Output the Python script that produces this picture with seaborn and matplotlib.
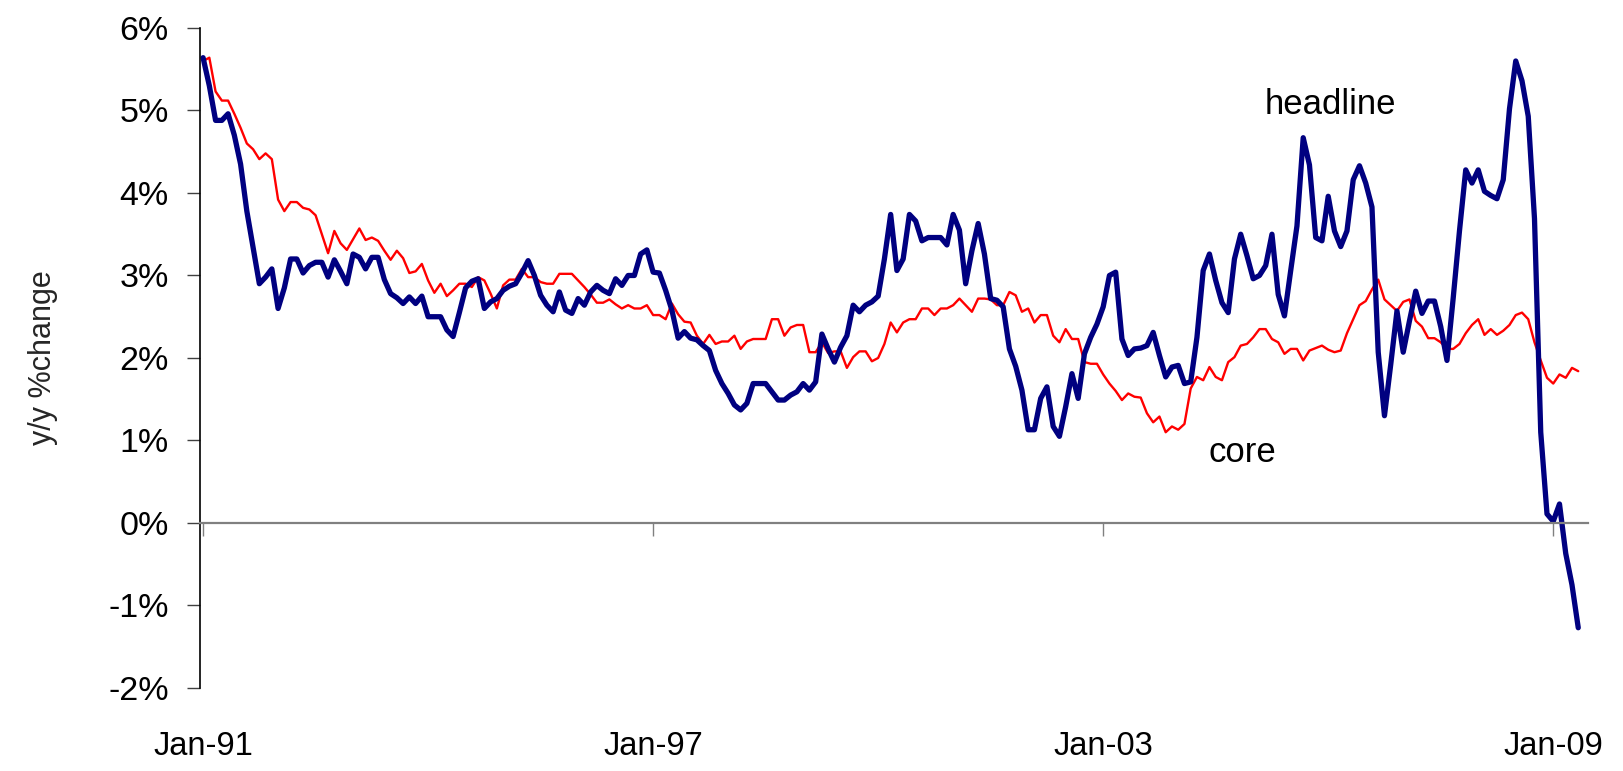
import numpy as np
import pandas as pd
import matplotlib
matplotlib.use("Agg")
import matplotlib.pyplot as plt
import seaborn as sns

# ---- data: US CPI, y/y % change, monthly Jan-1991 .. May-2009 ----
headline = [
    5.64, 5.30, 4.88, 4.88, 4.96, 4.70, 4.35, 3.78, 3.34, 2.90, 2.98, 3.08,
    2.60, 2.85, 3.20, 3.20, 3.03, 3.12, 3.16, 3.16, 2.98, 3.19, 3.05, 2.90,
    3.26, 3.22, 3.08, 3.22, 3.22, 2.95, 2.78, 2.73, 2.66, 2.74, 2.66, 2.75,
    2.50, 2.50, 2.50, 2.34, 2.26, 2.55, 2.85, 2.93, 2.96, 2.60, 2.68, 2.72,
    2.82, 2.87, 2.90, 3.03, 3.18, 3.00, 2.76, 2.64, 2.56, 2.80, 2.58, 2.54,
    2.72, 2.64, 2.80, 2.88, 2.82, 2.78, 2.96, 2.88, 3.00, 3.00, 3.26, 3.31,
    3.04, 3.03, 2.82, 2.58, 2.24, 2.32, 2.24, 2.22, 2.15, 2.09, 1.85, 1.69,
    1.57, 1.43, 1.37, 1.45, 1.69, 1.69, 1.69, 1.59, 1.49, 1.49, 1.55, 1.59,
    1.69, 1.61, 1.71, 2.29, 2.11, 1.95, 2.13, 2.27, 2.64, 2.56, 2.64, 2.68,
    2.75, 3.20, 3.74, 3.06, 3.20, 3.74, 3.66, 3.42, 3.46, 3.46, 3.46, 3.37,
    3.74, 3.55, 2.90, 3.30, 3.63, 3.26, 2.72, 2.70, 2.62, 2.11, 1.90, 1.61,
    1.13, 1.13, 1.51, 1.65, 1.17, 1.05, 1.41, 1.81, 1.51, 2.05, 2.25, 2.41,
    2.62, 3.00, 3.04, 2.23, 2.03, 2.11, 2.12, 2.15, 2.31, 2.03, 1.77, 1.89,
    1.91, 1.69, 1.71, 2.25, 3.06, 3.26, 2.94, 2.67, 2.55, 3.20, 3.50, 3.24,
    2.96, 3.00, 3.12, 3.50, 2.77, 2.51, 3.06, 3.60, 4.67, 4.34, 3.46, 3.42,
    3.96, 3.54, 3.35, 3.54, 4.16, 4.33, 4.12, 3.83, 2.07, 1.30, 1.92, 2.57,
    2.07, 2.45, 2.81, 2.54, 2.69, 2.69, 2.38, 1.97, 2.73, 3.54, 4.28, 4.12,
    4.28, 4.02, 3.97, 3.93, 4.16, 5.02, 5.60, 5.36, 4.93, 3.69, 1.10, 0.11,
    0.02, 0.23, -0.37, -0.75, -1.27,
]
core = [
    5.60, 5.64, 5.23, 5.12, 5.12, 4.96, 4.79, 4.60, 4.53, 4.41, 4.48, 4.41,
    3.92, 3.78, 3.89, 3.89, 3.82, 3.80, 3.73, 3.50, 3.27, 3.54, 3.39, 3.31,
    3.44, 3.57, 3.43, 3.46, 3.42, 3.30, 3.19, 3.30, 3.21, 3.03, 3.05, 3.14,
    2.94, 2.79, 2.90, 2.75, 2.82, 2.90, 2.90, 2.86, 2.98, 2.94, 2.78, 2.60,
    2.88, 2.95, 2.95, 3.08, 2.98, 2.98, 2.92, 2.90, 2.90, 3.02, 3.02, 3.02,
    2.94, 2.86, 2.77, 2.67, 2.67, 2.71, 2.65, 2.60, 2.64, 2.60, 2.60, 2.64,
    2.52, 2.52, 2.47, 2.66, 2.53, 2.44, 2.43, 2.27, 2.17, 2.28, 2.17, 2.20,
    2.20, 2.27, 2.11, 2.20, 2.23, 2.23, 2.23, 2.47, 2.47, 2.27, 2.37, 2.40,
    2.40, 2.07, 2.07, 2.19, 2.06, 2.08, 2.08, 1.88, 2.01, 2.08, 2.08, 1.96,
    2.00, 2.17, 2.43, 2.31, 2.43, 2.47, 2.47, 2.60, 2.60, 2.52, 2.60, 2.60,
    2.64, 2.72, 2.64, 2.56, 2.72, 2.72, 2.71, 2.64, 2.64, 2.80, 2.76, 2.56,
    2.60, 2.43, 2.52, 2.52, 2.27, 2.19, 2.35, 2.23, 2.23, 1.95, 1.93, 1.93,
    1.80, 1.69, 1.60, 1.49, 1.57, 1.53, 1.52, 1.33, 1.22, 1.29, 1.10, 1.17,
    1.13, 1.20, 1.63, 1.77, 1.73, 1.89, 1.77, 1.73, 1.95, 2.01, 2.15, 2.17,
    2.25, 2.35, 2.35, 2.23, 2.19, 2.05, 2.11, 2.11, 1.97, 2.09, 2.12, 2.15,
    2.10, 2.07, 2.09, 2.30, 2.47, 2.64, 2.69, 2.83, 2.95, 2.71, 2.64, 2.57,
    2.68, 2.71, 2.45, 2.38, 2.24, 2.24, 2.19, 2.11, 2.11, 2.17, 2.30, 2.40,
    2.47, 2.28, 2.35, 2.28, 2.33, 2.40, 2.52, 2.55, 2.47, 2.19, 1.97, 1.76,
    1.69, 1.80, 1.76, 1.88, 1.84,
]
months = list(range(len(headline)))          # 0 = Jan-1991
tick_months = [0, 72, 144, 216]
tick_labels = ["Jan-91", "Jan-97", "Jan-03", "Jan-09"]
y_ticks = [-2, -1, 0, 1, 2, 3, 4, 5, 6]
y_tick_labels = [f"{t}%" for t in y_ticks]

df = pd.DataFrame({"month": months, "headline": headline, "core": core})

sns.set_theme(style="white")
plt.rcParams["font.family"] = ["Liberation Sans", "DejaVu Sans"]
plt.rcParams["axes.unicode_minus"] = False

fig = plt.figure(figsize=(16.23, 7.71), dpi=100)
ax = fig.add_axes([0.1232, 0.1077, 0.855, 0.856])

sns.lineplot(data=df, x="month", y="core", ax=ax, color="#FF0000", linewidth=1.7)
sns.lineplot(data=df, x="month", y="headline", ax=ax, color="#000080", linewidth=3.8)

ax.set_xlim(-0.5, 221.5)
ax.set_ylim(-2, 6)

# spines
for s in ["top", "right"]:
    ax.spines[s].set_visible(False)
ax.spines["left"].set_color("black")
ax.spines["left"].set_linewidth(1.2)
ax.spines["bottom"].set_position(("data", 0))
ax.spines["bottom"].set_color("#808080")
ax.spines["bottom"].set_linewidth(1.6)

ax.set_yticks(y_ticks)
ax.set_yticklabels(y_tick_labels)
ax.tick_params(axis="y", direction="out", length=9.5, width=1.0, color="#404040",
               left=True, labelsize=24.5, pad=13, labelcolor="black")

ax.set_xticks(tick_months)
ax.tick_params(axis="x", direction="out", length=9.5, width=1.0, color="#808080",
               bottom=True, labelbottom=False)

sec = ax.secondary_xaxis(0.0)
sec.set_xticks(tick_months)
sec.set_xticklabels(tick_labels)
sec.tick_params(axis="x", length=0, labelsize=23.5, pad=31, labelcolor="black")
sec.spines["bottom"].set_visible(False)

ax.set_xlabel("")
ax.set_ylabel("y/y %change", fontsize=22, labelpad=36)

ax.text(180.3, 5.07, "headline", ha="center", va="center", fontsize=25, color="black")
ax.text(166.2, 0.86, "core", ha="center", va="center", fontsize=25, color="black")

ax.grid(False)
fig.savefig("out.png", dpi=100)
